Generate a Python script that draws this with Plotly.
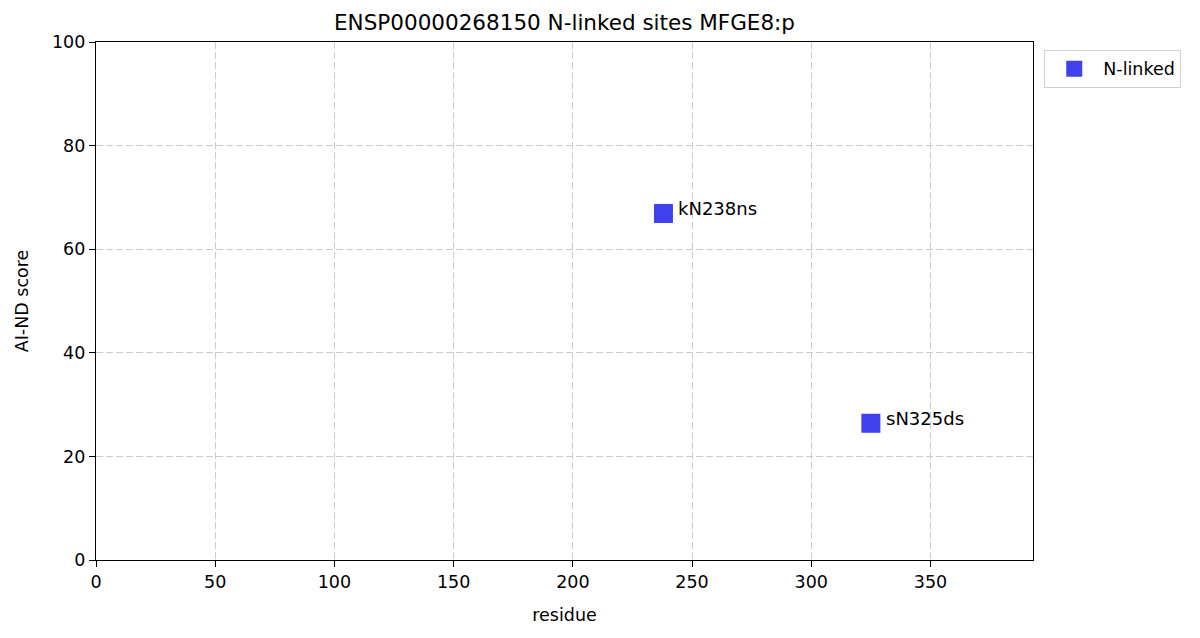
import plotly.graph_objects as go

residues = [238, 325]
scores = [66.9, 26.4]
labels = ["kN238ns", "sN325ds"]
series_name = "N-linked"
title = "ENSP00000268150 N-linked sites MFGE8:p"
x_ticks = [0, 50, 100, 150, 200, 250, 300, 350]
y_ticks = [0, 20, 40, 60, 80, 100]

FONT = "DejaVu Sans"
FS = 17.5

fig = go.Figure()
fig.add_trace(go.Scatter(
    x=residues, y=scores, mode="markers", name=series_name,
    marker=dict(symbol="square", size=19, color="rgb(64,64,236)",
                line=dict(width=0)),
))
for x, y, t in zip(residues, scores, labels):
    fig.add_annotation(x=x, y=y, text=t, showarrow=False, xanchor="left",
                       yanchor="middle", xshift=13, yshift=5,
                       font=dict(family=FONT, size=18, color="black"))

axis_common = dict(
    showline=True, linecolor="black", linewidth=1.3, mirror=True,
    ticks="outside", ticklen=6, tickwidth=1.3, tickcolor="black",
    showgrid=True, gridcolor="#cccccc", griddash="7px,3px", gridwidth=1.3,
    zeroline=False, tickfont=dict(family=FONT, size=FS, color="black"),
)
fig.update_xaxes(range=[0, 393], tickvals=x_ticks,
                 title=dict(text="residue", font=dict(family=FONT, size=FS, color="black"), standoff=17),
                 **axis_common)
fig.update_yaxes(range=[0, 100], tickvals=y_ticks,
                 title=dict(text="AI-ND score", font=dict(family=FONT, size=FS, color="black"), standoff=18),
                 **axis_common)

fig.update_layout(
    width=1200, height=638,
    margin=dict(l=88, r=175, t=34, b=86),
    plot_bgcolor="white", paper_bgcolor="white",
    title=dict(text=title, x=0.5, xref="paper", xanchor="center",
               y=1 - 14 / 638, yanchor="middle",
               font=dict(family=FONT, size=21.5, color="black")),
    font=dict(family=FONT, size=FS, color="black"),
    showlegend=True,
    legend=dict(x=1.012, y=0.985, xanchor="left", yanchor="top",
                bordercolor="#d0d0d0", borderwidth=1, bgcolor="white",
                font=dict(family=FONT, size=FS, color="black"),
                itemwidth=48),
)

fig.write_html("out.html")
